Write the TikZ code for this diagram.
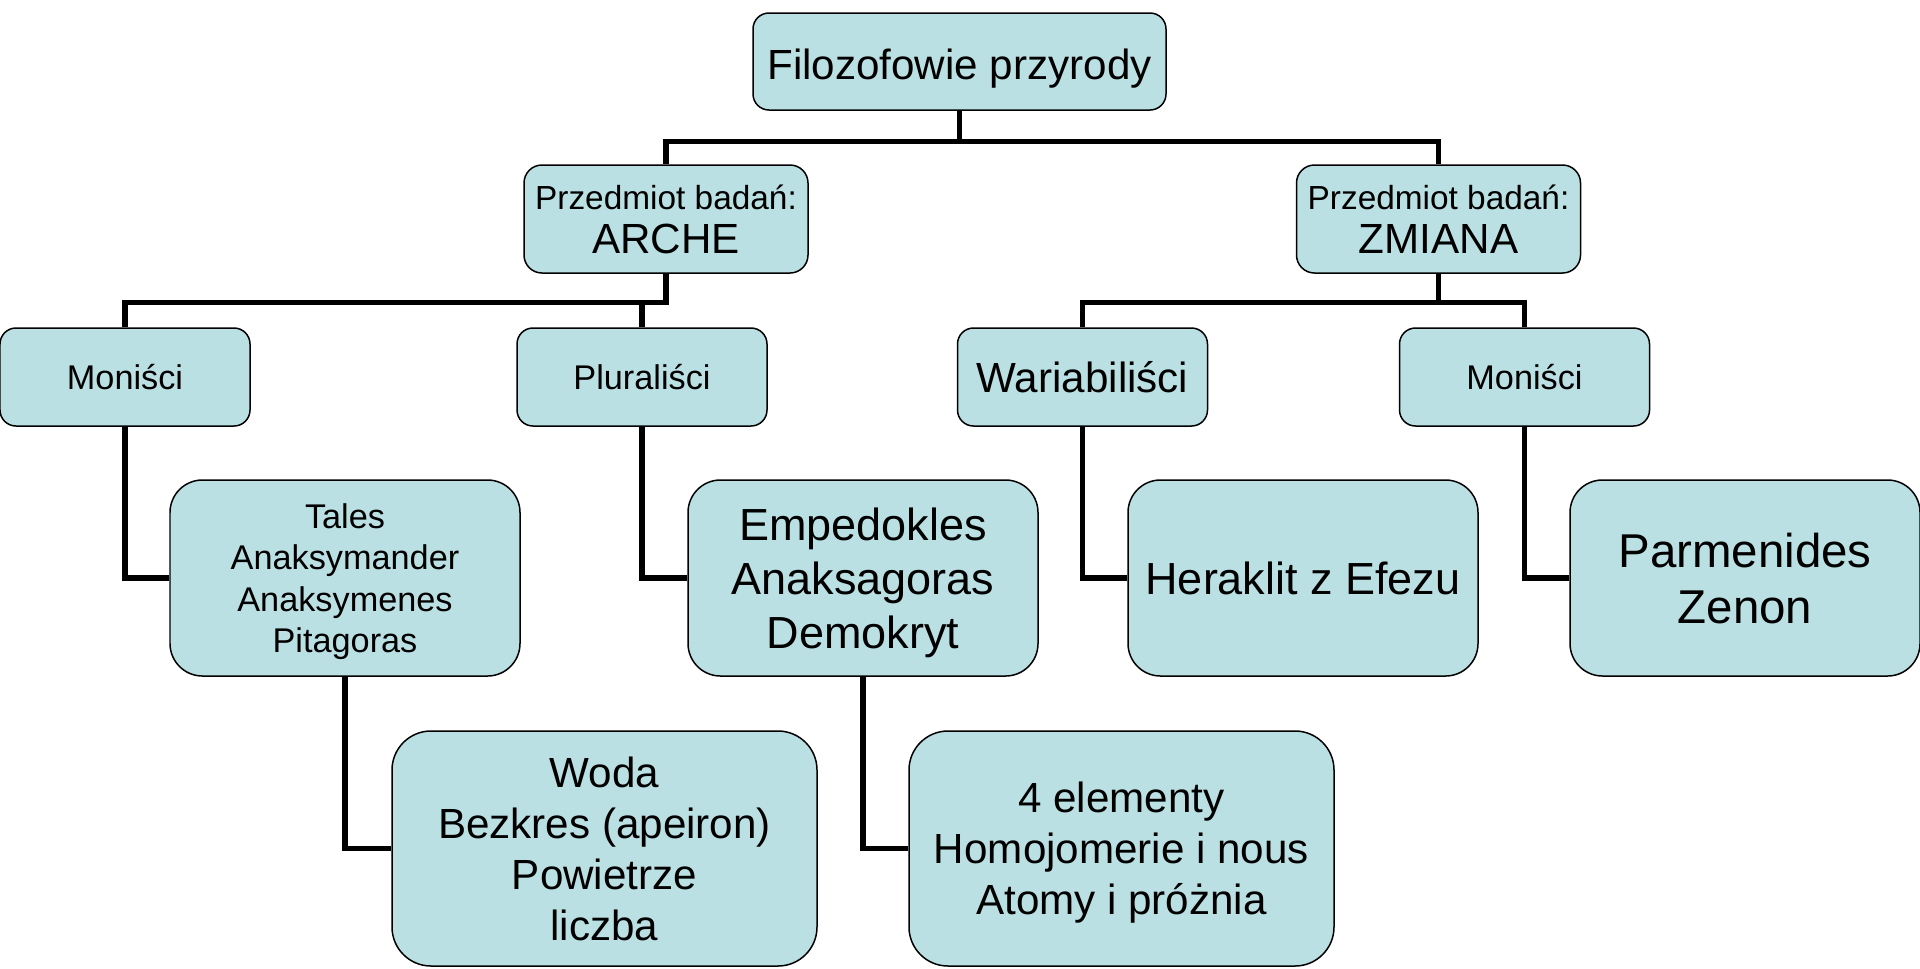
\documentclass[tikz,border=0pt]{standalone}
\usepackage{fontspec}
\setmainfont{Liberation Sans}
\usetikzlibrary{positioning}
\definecolor{boxblue}{RGB}{187,224,227}
\newcommand{\fsz}[2]{\fontsize{#1}{#2}\selectfont}

\begin{document}
\begin{tikzpicture}[
  box/.style={draw=black, line width=0.85pt, fill=boxblue, align=center, inner sep=0pt,
              text depth=0pt},
  small/.style={box, minimum width=5.0cm, minimum height=1.96cm, rounded corners=0.32cm,
                font=\fsz{19.5}{23.5}},
  head/.style={box, minimum width=5.68cm, minimum height=2.16cm, rounded corners=0.36cm,
               font=\fsz{24}{25}},
  mid/.style={box, minimum width=7.0cm, minimum height=3.92cm, rounded corners=0.65cm},
  big/.style={box, minimum width=8.5cm, minimum height=4.7cm, rounded corners=0.78cm,
              font=\fsz{24}{29}},
  con/.style={draw=black, line width=3pt}
]
\useasboundingbox (0,0) rectangle (38.4,-19.36);

\node[box, minimum width=8.26cm, minimum height=1.94cm, rounded corners=0.32cm,
      font=\fsz{24}{29}, text height=21pt] (root) at (19.19,-1.23) {Filozofowie przyrody};

\node[head] (arche)  at (13.32,-4.38) {{\fsz{19}{23}Przedmiot badań:}\\ARCHE};
\node[head] (zmiana) at (28.77,-4.38) {{\fsz{19}{23}Przedmiot badań:}\\ZMIANA};

\node[small] (monl) at (2.5,-7.54)   {Moniści};
\node[small] (plur) at (12.84,-7.54) {Pluraliści};
\node[small, font=\fsz{24}{29}] (wari) at (21.65,-7.54) {Wariabiliści};
\node[small] (monr) at (30.49,-7.54) {Moniści};

\node[mid, font=\fsz{19.5}{23.5}] (tales) at (6.9,-11.56)
  {Tales\\Anaksymander\\Anaksymenes\\Pitagoras};
\node[mid, font=\fsz{25.6}{30.7}] (emp) at (17.26,-11.56)
  {Empedokles\\Anaksagoras\\Demokryt};
\node[mid, font=\fsz{25.6}{30.7}] (hera) at (26.06,-11.56) {Heraklit z Efezu};
\node[mid, font=\fsz{27}{32}] (parm) at (34.9,-11.56) {Parmenides\\Zenon};

\node[big] (woda) at (12.09,-16.97) {Woda\\Bezkres (apeiron)\\Powietrze\\liczba};
\node[big] (elem) at (22.43,-16.97) {4 elementy\\Homojomerie i nous\\Atomy i próżnia};

\draw[con] (root.south) -- ++(0,-0.62) -| (arche.north);
\draw[con] (root.south) -- ++(0,-0.62) -| (zmiana.north);
\draw[con] (arche.south) -- ++(0,-0.58) -| (monl.north);
\draw[con] (arche.south) -- ++(0,-0.58) -| (plur.north);
\draw[con] (zmiana.south) -- ++(0,-0.58) -| (wari.north);
\draw[con] (zmiana.south) -- ++(0,-0.58) -| (monr.north);
\draw[con] (monl.south) |- (tales.west);
\draw[con] (plur.south) |- (emp.west);
\draw[con] (wari.south) |- (hera.west);
\draw[con] (monr.south) |- (parm.west);
\draw[con] (tales.south) |- (woda.west);
\draw[con] (emp.south) |- (elem.west);
\end{tikzpicture}
\end{document}
